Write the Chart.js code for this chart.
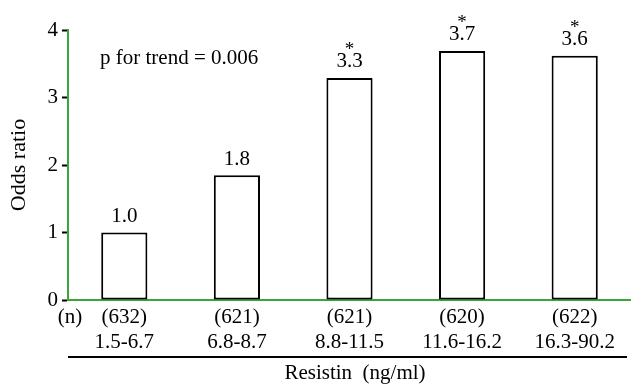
<!DOCTYPE html>
<html>
<head>
<meta charset="utf-8">
<script src="https://cdn.jsdelivr.net/npm/chart.js@4/dist/chart.umd.min.js"></script>
<style>
  body { margin: 0; background: #fff; }
  #wrap { width: 631px; height: 385px; position: relative; }
</style>
</head>
<body>
<div id="wrap"><canvas id="chart"></canvas></div>
<script>
// data
const counts = ['(632)', '(621)', '(621)', '(620)', '(622)'];
const ranges = ['1.5-6.7', '6.8-8.7', '8.8-11.5', '11.6-16.2', '16.3-90.2'];
const oddsRatios = [1.0, 1.85, 3.29, 3.69, 3.62];
const valueLabels = ['1.0', '1.8', '3.3', '3.7', '3.6'];
const significant = [false, false, true, true, true];
const yTicks = [0, 1, 2, 3, 4];

const serif = "'Liberation Serif', 'DejaVu Serif', serif";
const axisGreen = '#3aa53a';

// labels above bars, trend text, (n), underline and axis title
const annotations = {
    id: 'annotations',
    afterDatasetsDraw(chart) {
        const ctx = chart.ctx;
        const x = chart.scales.x;
        const y = chart.scales.y;
        ctx.save();
        ctx.fillStyle = '#000';
        ctx.textAlign = 'center';
        ctx.textBaseline = 'middle';
        oddsRatios.forEach((v, i) => {
            const px = x.getPixelForValue(i);
            const top = y.getPixelForValue(v);
            ctx.font = '21px ' + serif;
            ctx.fillText(valueLabels[i], px, top - 16);
            if (significant[i]) {
                ctx.font = '19px ' + serif;
                ctx.fillText('*', px, top - 28);
            }
        });

        ctx.font = '21px ' + serif;
        ctx.textAlign = 'left';
        ctx.fillText('p for trend = 0.006', 100, 58);

        ctx.textAlign = 'center';
        ctx.fillText('(n)', 70, 317);

        ctx.strokeStyle = '#000';
        ctx.lineWidth = 2;
        ctx.beginPath();
        ctx.moveTo(68, 357);
        ctx.lineTo(627, 357);
        ctx.stroke();

        ctx.fillText('Resistin  (ng/ml)', 355, 373);
        ctx.restore();
    }
};

const ctx = document.getElementById('chart').getContext('2d');
new Chart(ctx, {
    type: 'bar',
    data: {
        labels: counts.map((c, i) => [c, ranges[i]]),
        datasets: [{
            data: oddsRatios,
            backgroundColor: '#fff',
            borderColor: '#000',
            borderWidth: 2,
            borderSkipped: false,
            barPercentage: 0.41,
            categoryPercentage: 1
        }]
    },
    options: {
        responsive: true,
        maintainAspectRatio: false,
        animation: false,
        layout: { padding: { top: 30, right: 0, left: 0, bottom: 0 } },
        plugins: {
            legend: { display: false },
            tooltip: { enabled: false }
        },
        scales: {
            x: {
                afterFit: s => { s.height = 85; },
                grid: { display: false, drawTicks: false },
                border: { display: true, color: axisGreen, width: 2 },
                ticks: {
                    color: '#000',
                    padding: 5,
                    maxRotation: 0,
                    font: { family: serif, size: 21, lineHeight: 1.2 }
                }
            },
            y: {
                min: 0,
                max: 4,
                afterFit: s => { s.width = 68; },
                afterBuildTicks: s => { s.ticks = yTicks.map(v => ({ value: v })); },
                grid: { display: true, drawOnChartArea: false, tickColor: '#000', tickLength: 6, tickWidth: 2 },
                border: { display: true, color: axisGreen, width: 2 },
                ticks: {
                    color: '#000',
                    padding: 4,
                    font: { family: serif, size: 21 }
                },
                title: {
                    display: true,
                    text: 'Odds ratio',
                    color: '#000',
                    padding: { top: 6, bottom: 4 },
                    font: { family: serif, size: 22 }
                }
            }
        }
    },
    plugins: [annotations]
});
</script>
</body>
</html>
